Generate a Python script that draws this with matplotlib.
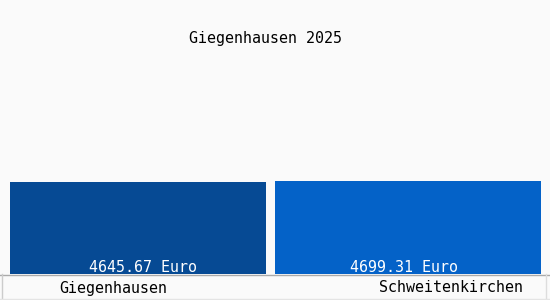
import matplotlib
matplotlib.use("Agg")
import matplotlib.pyplot as plt
from matplotlib.lines import Line2D

title = "Giegenhausen 2025"
categories = ["Giegenhausen", "Schweitenkirchen"]
values = [4645.67, 4699.31]
value_labels = ["4645.67 Euro", "4699.31 Euro"]
colors = ["#064a94", "#0462c8"]

W, H = 550, 300
fig = plt.figure(figsize=(W / 100, H / 100), dpi=100)
fig.patch.set_facecolor("#fafafa")

base_px = 274  # baseline y (pixels from top)
ax = fig.add_axes([0, (H - base_px) / H, 1, base_px / H])
ax.set_facecolor("none")
ymax = values[0] * base_px / 92.0
ax.set_ylim(0, ymax)
unit = 270.0
ax.set_xlim(-138 / unit, (W - 138) / unit)
widths = [256 / unit, 266 / unit]
xs = [0, 1]
ax.bar(xs, values, width=widths, color=colors, align="center")
for spine in ax.spines.values():
    spine.set_visible(False)
ax.set_xticks([])
ax.set_yticks([])

font = dict(family="DejaVu Sans Mono", fontsize=10.8, fontweight="normal")
label_x = [143 / W, 404 / W]
for lx, lab in zip(label_x, value_labels):
    fig.text(lx, (H - 268) / H, lab, color="white", ha="center", va="center", **font)

cat_x = [113 / W, 451 / W]
for cx, lab in zip(cat_x, categories):
    fig.text(cx, (H - 288) / H, lab, color="black", ha="center", va="center", **font)

fig.text(265.5 / W, (H - 38) / H, title, color="black", ha="center", va="center", **font)

# baseline and frame lines
fig.add_artist(Line2D([0, 1], [(H - 274.5) / H] * 2, transform=fig.transFigure, color="#aaaaaa", lw=1))
fig.add_artist(Line2D([1.5 / W, 1.5 / W], [1 / H, (H - 274) / H], transform=fig.transFigure, color="#cccccc", lw=1))
fig.add_artist(Line2D([545.5 / W, 545.5 / W], [1 / H, (H - 274) / H], transform=fig.transFigure, color="#dddddd", lw=1))
fig.add_artist(Line2D([0, 1], [1.5 / H, 1.5 / H], transform=fig.transFigure, color="#e4e4e4", lw=1))

fig.savefig("out.png", dpi=100, facecolor=fig.get_facecolor())
